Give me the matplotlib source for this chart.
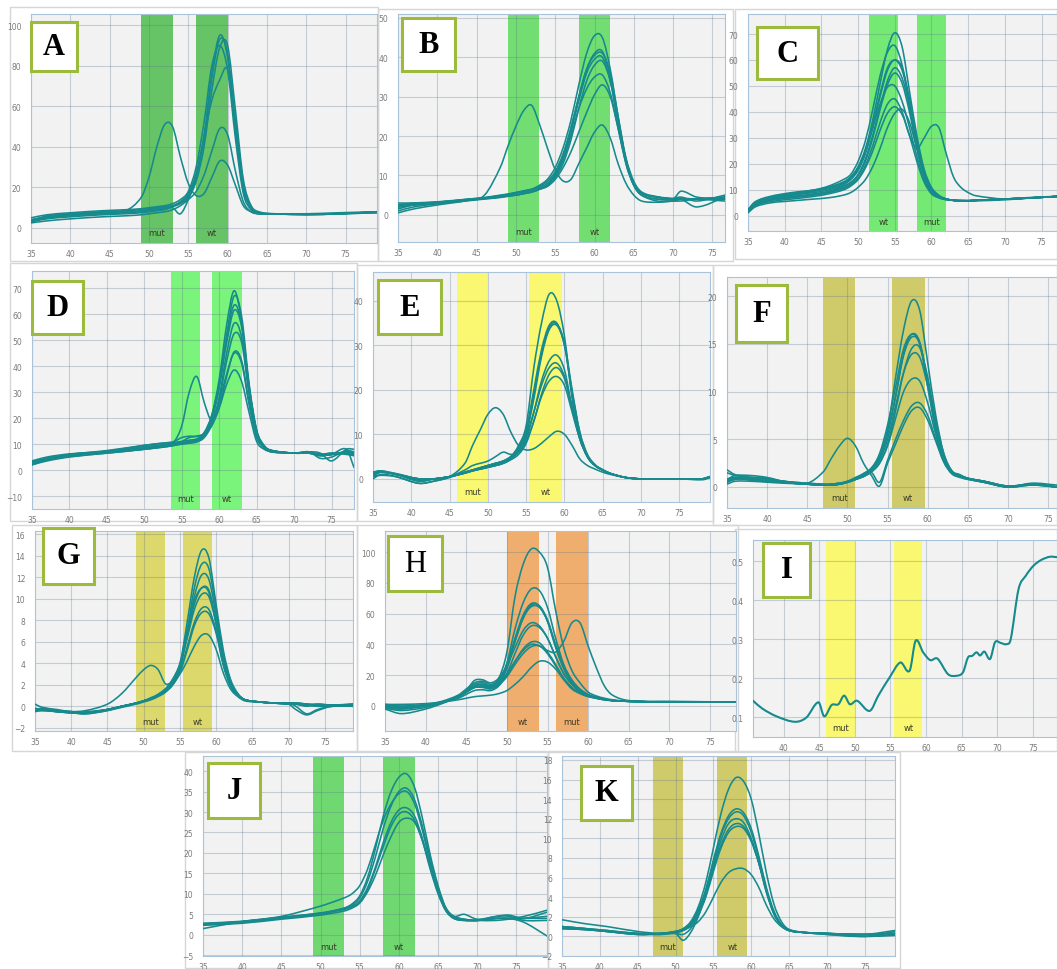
import matplotlib
matplotlib.use('Agg')
import matplotlib.pyplot as plt
from matplotlib.patches import Rectangle, PathPatch
from matplotlib.path import Path
import matplotlib.transforms as mtransforms

W, H = 1057, 970

# ---------------- data: melt curves ----------------
# temperature grid per panel, one list of -dF/dT values per trace

xA = [35, 37, 40, 44, 47, 49, 50, 51, 52, 53, 54, 55, 56, 57, 58, 59, 60, 61, 62, 63, 64, 66, 70, 74, 79]
curves_A = [
    [3, 6, 7, 8, 8.5, 9, 9.5, 10, 10.5, 11, 13, 17, 27, 45, 76, 95, 84, 48, 19, 10, 7.5, 7, 7, 7, 8],
    [4, 5.5, 6.5, 7.5, 8, 8.5, 9, 9.5, 10, 11, 12.5, 16, 26, 44, 74, 93, 86, 52, 21, 10, 7.5, 7, 7, 7.5, 8],
    [3.5, 5, 6, 7, 7.5, 8, 8.5, 9, 9.5, 10.5, 12, 15, 23, 40, 68, 89, 90, 58, 24, 11, 8, 7, 7, 7, 8],
    [5, 6.5, 7.5, 8.5, 9, 9.5, 10, 10.5, 11, 12, 14, 18, 30, 52, 80, 90, 78, 44, 17, 9, 7, 7, 6.5, 7, 8],
    [3, 4.5, 5.5, 6.5, 7, 7.5, 8, 8.5, 9, 10, 7, 14, 25, 45, 63, 73, 78, 52, 22, 10, 7.5, 7, 6.5, 7, 7.5],
    [2.5, 3.5, 4.5, 5.5, 6, 6.5, 7, 7.5, 8, 9, 11, 14, 18, 26, 38, 49, 46, 28, 13, 8, 7, 7, 7, 7, 7.5],
    [4, 5.5, 6.5, 7.5, 8.5, 15, 25, 40, 51, 50, 35, 22, 16, 17, 25, 33, 31, 21, 11, 8, 7, 7, 7, 7, 8],
]
bands_A = [(49, 53, 'mut'), (56, 60, 'wt')]

xB = [35, 37, 40, 44, 46, 48, 49, 50, 51, 52, 53, 54, 55, 56, 57, 58, 59, 60, 61, 62, 63, 64, 65, 66, 68, 70, 71, 73, 76.6]
curves_B = [
    [2, 2.5, 3, 3.8, 4.2, 4.8, 5.1, 5.5, 6, 6.5, 7.5, 9, 12, 17, 24, 33, 41, 45.5, 45, 37, 25, 14, 8, 5.5, 4.5, 4, 4, 4, 3.5],
    [2.5, 3, 3.2, 4, 4.4, 5, 5.3, 5.7, 6.1, 6.5, 7, 8, 10.5, 15, 22, 30, 37, 41, 41.5, 35, 24, 14, 8, 5.5, 4.5, 4, 4.2, 4, 4],
    [1.5, 2.5, 3, 3.8, 4.2, 4.8, 5.1, 5.5, 5.8, 6, 6.7, 7.5, 10, 14, 21, 29, 36, 39.5, 40, 34, 23, 13, 7.5, 5, 4, 4, 6, 4.5, 4],
    [3, 3, 3.3, 4, 4.3, 4.7, 4.9, 5, 5.4, 5.8, 6.5, 7.5, 9.5, 13, 19, 27, 34, 38, 39, 34, 24, 14, 8, 5.5, 4.5, 4, 4, 2, 4.5],
    [2, 2.5, 3, 3.7, 4.1, 4.5, 4.8, 5, 5.4, 5.8, 6.5, 7.5, 10, 14, 20, 27, 32, 35, 35.5, 31, 22, 13, 7.5, 5, 4, 3.8, 4, 4, 4.5],
    [1, 2, 2.8, 3.6, 4, 4.4, 4.7, 5, 5.4, 5.8, 6.5, 7.2, 9, 12, 16, 21, 26, 30.5, 33, 30, 22, 13.5, 7.5, 5, 3.5, 3.5, 4, 4, 4],
    [0.5, 1.5, 2.5, 3.7, 5, 12, 17.5, 22.5, 26.5, 27.8, 23, 17, 11.5, 8.6, 9, 13, 17, 21, 22.8, 19.5, 13, 8, 5, 3.5, 3.2, 3.5, 3.5, 4, 4.5],
    [2.2, 2.8, 3.2, 3.9, 4.3, 4.9, 5.2, 5.6, 6, 6.4, 7.2, 8.5, 11, 15.5, 22, 30, 37, 40.5, 41, 36, 25, 14.5, 8.5, 5.8, 4.6, 4.2, 4.5, 3.5, 5],
]
bands_B = [(49, 53, 'mut'), (58, 62, 'wt')]

xC = [35, 36, 38, 41, 44, 46, 48, 49, 50, 51, 52, 53, 54, 55, 56, 57, 58, 59, 60, 61, 62, 63, 64, 65, 66, 70, 74, 77.1]
curves_C = [
    [2, 5, 7, 8, 9.5, 11, 13, 15, 19, 26, 37, 51, 64, 70.5, 65, 48, 31, 18, 11, 8, 6.5, 6, 6, 5.8, 5.8, 6.2, 7, 7.5],
    [2.5, 5.5, 7.5, 9, 10, 11.5, 14, 16, 21, 29, 41, 54, 63, 65.5, 58, 43, 27, 16, 10, 7.5, 6.5, 6, 5.8, 5.8, 6, 6.5, 7, 7.5],
    [1.5, 4.5, 6.5, 8, 9, 10, 12, 14, 17.5, 24, 34, 46, 56, 60, 56, 44, 28, 16.5, 10, 7.5, 6.5, 6, 6, 6, 6, 6.5, 7.2, 7.5],
    [2, 4.8, 6.3, 7.5, 8.5, 9.5, 11.5, 13, 16, 22, 31, 42, 52, 57, 53, 42, 27, 16, 10, 7.5, 6.5, 6, 5.8, 5.8, 6, 6.5, 7, 7.5],
    [2, 5, 6.8, 8.5, 10, 11, 13, 15, 18.5, 25, 34, 43, 49.5, 50, 44, 34, 23, 14, 9, 7, 6.3, 6, 5.8, 5.8, 6, 6.5, 7, 7.5],
    [1.5, 4, 6, 7, 8, 9, 10.5, 12, 14.5, 19.5, 27, 36, 43, 45, 40, 31, 26, 30, 34.5, 34, 24, 15, 11, 9, 7.8, 6.5, 7, 7.5],
    [1.5, 4, 5.5, 6.5, 7.5, 8.5, 10, 11.5, 14, 18.5, 25, 33, 39.5, 42, 39, 31, 21, 13, 8.5, 7, 6.2, 6, 5.8, 5.8, 6, 6.5, 7, 7.5],
    [1.2, 3.5, 5, 5.8, 6.5, 7, 8, 9, 11, 14, 19, 26, 34, 39.5, 41, 36, 26, 16, 10, 7.5, 6.5, 6, 5.8, 5.8, 6, 6.5, 7, 7.5],
    [2, 5.2, 7.2, 8.5, 9.5, 10.5, 12.5, 14.5, 18, 24.5, 35, 47, 57, 60, 57, 45, 29, 17, 10.5, 7.5, 6.5, 6, 5.8, 5.8, 6, 6.5, 7, 7.5],
    [2, 4.5, 6, 7.2, 8.2, 9.2, 11, 12.5, 15.5, 21, 30, 41, 50.5, 55, 51, 40, 26, 15.5, 9.5, 7.3, 6.5, 6, 5.8, 5.8, 6, 6.5, 7, 7.5],
]
bands_C = [(51.5, 55.5, 'wt'), (58, 62, 'mut')]

xD = [35, 37, 40, 45, 50, 53, 54, 55, 56, 57, 58, 59, 60, 61, 62, 63, 64, 65, 66, 67, 70, 72, 73.5, 75, 77, 78]
curves_D = [
    [3, 4.5, 6, 7, 8.5, 9.5, 10, 10.5, 11, 11.5, 14, 21, 35, 56, 69, 57, 31, 14.5, 9, 7.5, 6.5, 7, 6, 6.5, 6.5, 6],
    [2.5, 4, 5.5, 6.8, 8, 9, 9.5, 10, 10.5, 11, 13, 19, 32, 52, 67, 59, 33, 15.5, 9.5, 7.5, 6.5, 6.5, 5.5, 6, 7, 6.5],
    [3.5, 5, 6.2, 7.2, 9, 10, 10.5, 11, 11.5, 12, 14.5, 21, 33, 51, 63.5, 56, 32, 15, 9, 7.5, 6.5, 7, 4.5, 5, 7.5, 7],
    [2, 3.8, 5.2, 6.5, 8, 9, 9.5, 10, 10.3, 10.8, 12.5, 17.5, 28, 45, 56.5, 51, 30, 14.5, 9, 7.5, 6.5, 6.5, 6, 6.5, 6, 5.5],
    [3, 4.3, 5.8, 7, 8.5, 9.5, 10, 10.5, 11, 11.5, 13, 18, 27, 42, 52.5, 49, 29, 14, 9, 7.5, 6.5, 7, 6.5, 3.5, 8, 8],
    [2.5, 4, 5.5, 7.2, 9.5, 10.5, 10.5, 11, 12.5, 13, 14, 17, 24, 36, 45.5, 42, 26, 13, 8.5, 7, 6.5, 6.5, 6, 6, 7, 6.5],
    [2, 3.5, 5, 6.5, 8, 9.5, 11, 17, 30, 36, 26, 19, 24, 33, 38.5, 34, 22, 11, 8, 7, 6.5, 6.5, 6, 6, 8, 1],
    [3, 4.5, 6, 7.5, 9.5, 10.5, 11, 12.5, 13, 13, 14, 18, 26, 37, 45, 41, 25, 12.5, 8.5, 7, 6.5, 6.5, 5.5, 6, 6.5, 6],
    [2.8, 4.2, 5.7, 6.9, 8.3, 9.3, 9.8, 10.2, 10.6, 11.2, 13.5, 20, 32, 49, 61.5, 55, 32, 15, 9, 7.5, 6.5, 6.5, 6, 6, 6.5, 6],
]
bands_D = [(53.5, 57.5, 'mut'), (59, 63, 'wt')]

xE = [35, 36, 38, 41, 43, 45, 47, 48, 49, 50, 51, 52, 53, 54, 55, 56, 57, 58, 59, 60, 61, 62, 63, 64, 65, 66, 68, 70, 75, 78, 79]
curves_E = [
    [1, 1.5, 1, 0, 0, 0.5, 1.5, 2, 2.5, 3, 3.5, 4, 5, 7.5, 12, 25, 35, 41.5, 40, 32, 18, 9.5, 5, 3, 2, 1.2, 0.3, 0, 0, 0, 0.5],
    [0.5, 1.5, 1, -0.5, 0, 0.5, 1.5, 2, 2.5, 3, 3.5, 4, 5, 7, 11, 20, 29, 34.5, 35, 30, 19, 10, 5, 3, 2, 1.2, 0.3, 0, 0, -0.2, 0.3],
    [1.5, 1.8, 1.2, 0, 0, 0.5, 1.3, 1.8, 2.2, 2.6, 3, 3.5, 4.5, 6.5, 10, 18, 27.5, 33.5, 34.5, 30, 19.5, 10.5, 5.5, 3.2, 2, 1.2, 0.3, 0, 0, 0, 0.5],
    [1, 1.5, 1, -0.5, 0, 0.5, 1.3, 1.8, 2.2, 2.6, 3, 3.5, 4.5, 6, 9, 15, 22, 26.5, 27.8, 24.5, 16, 9, 5, 3, 2, 1.2, 0.3, 0, 0, 0, 0.5],
    [0.5, 0.8, 0.5, -1, -0.5, 0.3, 1.5, 2, 2.5, 3, 3.5, 4, 5, 6.5, 9.5, 15, 21, 25, 26, 23, 16, 9, 5, 3, 2, 1.2, 0.3, 0, 0, 0, 0.3],
    [1.5, 1.8, 1, 0, 0, 0.5, 2, 3, 3.5, 4, 5, 6, 5.5, 6, 8.5, 13, 19, 23.5, 25, 22.5, 16, 9.5, 5, 3, 2, 1.2, 0.3, 0, 0, 0, 0.5],
    [1, 1.5, 1, -0.3, 0, 0.5, 1.3, 1.8, 2.2, 2.6, 3, 3.5, 4.3, 5.5, 8, 13, 18.5, 22, 23, 21, 15, 9, 5, 3, 2, 1.2, 0.3, 0, 0, 0, 0.3],
    [0, 1, 0.5, -1, -0.5, 0.5, 3.5, 7.5, 11, 14.5, 16, 14.5, 10.5, 7.5, 6.5, 6.8, 8, 9.5, 10.7, 10, 7.5, 4.5, 3, 2.2, 1.5, 1, 0.3, 0, 0, 0, 0.5],
    [1.2, 1.6, 1.1, 0, 0, 0.5, 1.4, 1.9, 2.4, 2.8, 3.3, 3.8, 4.8, 6.8, 10.5, 19, 28, 34, 34.8, 30.5, 20, 10.5, 5.3, 3.1, 2, 1.2, 0.3, 0, 0, 0, 0.4],
]
bands_E = [(46, 50, 'mut'), (55.4, 59.7, 'wt')]

xF = [35, 36, 38, 40, 42, 45, 47, 48, 49, 50, 51, 52, 53, 54, 55, 56, 57, 58, 59, 60, 61, 62, 63, 64, 65, 67, 70, 73, 76.1]
curves_F = [
    [1.8, 1.3, 1, 0.9, 0.6, 0.4, 0.3, 0.3, 0.4, 0.5, 0.8, 1.2, 1.8, 3, 6, 11.5, 16.5, 19.5, 18.5, 13, 7.5, 3.5, 1.7, 1.3, 0.9, 0.6, 0, 0.3, 0],
    [0.5, 0.8, 1, 0.9, 0.6, 0.3, 0.2, 0.2, 0.3, 0.5, 0.8, 1.2, 1.8, 3, 5.5, 9.5, 14, 16, 15.2, 11, 6.5, 3.2, 1.6, 1.2, 0.9, 0.6, 0.1, 0.3, 0],
    [0.8, 1.2, 1.2, 1, 0.6, 0.3, 0.2, 0.3, 0.4, 0.6, 1, 1.4, 2, 3.2, 5.8, 9.5, 13.8, 15.7, 15, 11, 6.5, 3.2, 1.6, 1.2, 0.9, 0.5, 0, 0.4, 0.2],
    [0.3, 0.6, 0.6, 0.5, 0.4, 0.3, 0.2, 0.2, 0.3, 0.5, 0.8, 1.1, 1.6, 2.5, 4.5, 8, 12, 14.5, 14.6, 11.5, 7, 3.5, 1.7, 1.2, 0.9, 0.5, 0, 0.2, 0],
    [0.6, 1, 0.8, 0.7, 0.5, 0.3, 0.2, 0.2, 0.3, 0.5, 0.8, 1.2, 1.8, 2.8, 5, 8.5, 12, 13.9, 13.6, 10.5, 6.2, 3, 1.6, 1.2, 0.9, 0.6, 0.1, 0.3, 0],
    [0.5, 0.9, 0.7, 0.6, 0.5, 0.3, 0.2, 0.2, 0.3, 0.5, 0.8, 1.1, 1.6, 2.5, 4.3, 7.2, 10, 11.3, 11.1, 8.8, 5.5, 2.8, 1.5, 1.1, 0.9, 0.6, 0.1, 0.3, 0],
    [0.8, 1, 0.9, 0.8, 0.5, 0.3, 0.2, 0.2, 0.3, 0.5, 0.8, 1.1, 1.5, 0.5, 2.8, 5, 7, 8.5, 8.8, 7.5, 5, 2.7, 1.4, 1, 0.8, 0.5, 0, 0.3, 0],
    [0.6, 0.8, 0.8, 0.6, 0.5, 0.4, 1.6, 3, 4.3, 5.1, 4.3, 2.5, 1.2, 0.1, 2.5, 4.5, 6.5, 8, 8.3, 7, 4.8, 2.6, 1.4, 1.1, 0.8, 0.5, 0, 0.2, 0],
    [1.5, 1.2, 1, 0.8, 0.6, 0.4, 0.3, 0.3, 0.4, 0.6, 0.9, 1.4, 2, 3.5, 6.5, 10.5, 14.5, 16, 15, 10.5, 5.8, 2.8, 1.5, 1.2, 0.9, 0.6, 0, 0.3, 0],
]
bands_F = [(47, 51, 'mut'), (55.5, 59.6, 'wt')]

xG = [35, 36, 38, 40, 42, 45, 47, 49, 50, 51, 52, 53, 54, 55, 56, 57, 58, 59, 60, 61, 62, 63, 64, 66, 68, 70, 71, 72.5, 74, 76, 78.9]
curves_G = [
    [-0.3, -0.2, -0.4, -0.5, -0.6, -0.3, 0, 0.3, 0.5, 0.7, 1, 1.4, 2.2, 3.8, 7.8, 12, 14.5, 13.8, 9.5, 5.2, 2.5, 1.2, 0.6, 0.4, 0.3, 0.3, 0.2, 0.1, 0.1, 0, 0.1],
    [-0.2, -0.3, -0.4, -0.6, -0.6, -0.3, 0, 0.3, 0.5, 0.7, 1, 1.4, 2, 3.5, 7, 11, 13.2, 12.8, 9, 4.8, 2.3, 1.1, 0.6, 0.4, 0.3, 0.3, 0.3, 0.2, 0, 0, 0.2],
    [0.2, -0.1, -0.3, -0.5, -0.5, -0.3, 0, 0.3, 0.5, 0.7, 1.1, 1.6, 2.3, 3.6, 6.8, 10.2, 12.2, 11.8, 8.5, 4.5, 2.2, 1.1, 0.6, 0.4, 0.3, 0.3, 0, -0.7, -0.3, 0, 0],
    [-0.4, -0.4, -0.5, -0.6, -0.7, -0.4, 0, 0.3, 0.5, 0.7, 1, 1.5, 2.3, 3.6, 6.5, 9.5, 11, 10.8, 8, 4.3, 2.1, 1, 0.6, 0.4, 0.3, 0.2, 0.2, 0.1, 0, 0.1, 0.2],
    [-0.2, -0.3, -0.4, -0.5, -0.6, -0.3, 0, 0.3, 0.5, 0.8, 1.1, 1.6, 2.5, 3.8, 6.3, 9, 10.4, 10.2, 7.7, 4.2, 2, 1, 0.6, 0.4, 0.3, 0.2, 0.2, 0, 0.2, 0.1, 0],
    [-0.3, -0.3, -0.5, -0.6, -0.7, -0.4, -0.1, 0.2, 0.4, 0.6, 0.9, 1.3, 2, 3.2, 5.5, 7.8, 9.1, 9, 7, 3.9, 1.9, 1, 0.6, 0.4, 0.3, 0.2, -0.3, -0.8, -0.4, 0, 0],
    [-0.5, -0.4, -0.5, -0.6, -0.6, -0.3, 0, 0.3, 0.5, 0.7, 1, 1.4, 2, 3.1, 5.2, 7.5, 8.7, 8.6, 6.8, 3.8, 1.9, 1, 0.6, 0.4, 0.3, 0.3, 0.3, 0.2, 0.2, 0.1, 0.2],
    [-0.3, -0.2, -0.4, -0.5, -0.4, 0.2, 1.2, 2.7, 3.4, 3.8, 3.4, 2.1, 2.3, 3, 4.2, 5.6, 6.6, 6.6, 5.3, 3.1, 1.6, 0.9, 0.5, 0.4, 0.3, 0.2, 0.2, 0.1, 0.1, 0, 0.1],
    [-0.3, -0.3, -0.5, -0.6, -0.6, -0.3, 0, 0.3, 0.5, 0.7, 1.1, 1.6, 2.5, 4, 7, 9.8, 11, 10.6, 7.6, 4, 2, 1, 0.6, 0.4, 0.3, 0.3, 0.3, 0.2, 0.1, 0.1, 0.1],
]
bands_G = [(49, 53, 'mut'), (55.4, 59.4, 'wt')]

xH = [35, 37, 40, 42, 44, 45, 46, 47, 48, 49, 50, 51, 52, 53, 54, 55, 56, 57, 58, 59, 60, 61, 62, 63, 65, 70, 78.2]
curves_H = [
    [-1, -2, 0, 2, 6, 9, 12, 13, 13, 18, 35, 71, 92, 102, 100, 90, 62, 38, 23, 15, 9, 6.5, 5, 4, 3, 2.5, 2.5],
    [0, -1, 0.5, 2.5, 6, 9, 12, 13, 12.5, 16, 28, 50, 67, 76, 75, 64, 44, 27, 17, 11, 7.5, 5.5, 4.5, 3.5, 3, 2.5, 2.5],
    [1, 0, 1, 3, 7, 11, 15, 16, 14, 17, 27, 44, 59, 66.5, 65, 55, 38, 24, 15, 10, 7, 5.5, 4.5, 3.5, 3, 2.5, 2.5],
    [-2, -5, -2, 1.5, 6, 10, 14, 15, 13, 16, 25, 42, 57, 64.5, 64, 55, 39, 25, 16, 10.5, 7, 5.5, 4.5, 3.5, 3, 2.5, 2.5],
    [-1, -1.5, 0, 2.5, 6.5, 10, 16.5, 17, 15, 18, 26, 38, 49, 54, 52, 44, 32, 21, 14, 9.5, 7, 5.5, 4.5, 3.5, 3, 2.5, 2.5],
    [0, -0.5, 0.5, 2.5, 5, 7.5, 10, 10.5, 10, 13, 21, 34, 46, 52, 51, 44, 32, 21, 14, 9.5, 7, 5.5, 4.5, 3.5, 3, 2.5, 2.5],
    [-1.5, -3, -1, 2, 6, 9, 12, 12.5, 11.5, 14, 20, 29, 37, 41.5, 41, 35, 27, 18, 12, 8.5, 6.5, 5, 4, 3.5, 3, 2.5, 2.5],
    [-1, -2, 0, 2.5, 6, 9, 13, 14, 12.5, 15, 21, 29, 36, 40, 39, 36, 35, 42, 54, 54, 39, 25, 13, 7, 3.5, 3, 2.5],
    [1, 1, 1.5, 2.5, 4, 5, 6, 6.5, 7, 8, 10, 14, 19, 25, 29, 28.5, 24, 17, 11, 8, 6, 5, 4, 3.5, 3, 2.5, 2.5],
    [0.5, -1, 0.5, 2.5, 6, 9.5, 13, 14, 12, 15, 24, 42, 57, 65.5, 65, 56, 40, 25, 16, 10.5, 7, 5.5, 4.5, 3.5, 3, 2.5, 2.5],
    [0, -1, 0.5, 2.5, 6, 9, 12, 12, 11, 13.5, 19, 27, 34, 38.5, 39, 34, 26, 18, 12, 8.5, 6.5, 5, 4, 3.5, 3, 2.5, 2.5],
]
bands_H = [(50, 54, 'wt'), (56, 60, 'mut')]

xI = [35.7, 37, 39, 41.6, 43.2, 44.9, 45.7, 46.75, 47.7, 48.5, 49.3, 50.3, 52.1, 53.3, 54.9, 56.4, 57.7, 58.55, 59.6,
      60.6, 61.6, 63.1, 64.3, 65.2, 65.9, 66.5, 67.1, 67.6, 68.2, 69.0, 69.7, 70.5, 71.3, 71.9, 73.0, 74.0, 75.1, 76.2,
      77.4, 78.4]
curves_I = [
    [0.142, 0.122, 0.102, 0.088, 0.099, 0.138, 0.102, 0.131, 0.133, 0.155, 0.133, 0.142, 0.116, 0.155, 0.202, 0.24,
     0.219, 0.296, 0.266, 0.246, 0.25, 0.21, 0.206, 0.215, 0.253, 0.257, 0.266, 0.258, 0.268, 0.249, 0.292, 0.29,
     0.287, 0.3, 0.428, 0.462, 0.488, 0.503, 0.511, 0.51],
]
bands_I = [(46, 50, 'mut'), (55.5, 59.5, 'wt')]

xJ = [35, 40, 45, 50, 53, 54, 55, 56, 57, 58, 59, 60, 61, 62, 63, 64, 65, 66, 67, 68.3, 70, 72.5, 74, 76, 78.9]
curves_J = [
    [2.5, 3, 4, 5, 6.5, 7.5, 9.5, 14, 21, 29, 35, 38.5, 39.3, 36, 28.5, 19.5, 12, 6.5, 4.5, 3.8, 3.5, 3.5, 3.8, 4, 4.5],
    [2.5, 3.2, 4.2, 5.3, 6.5, 7.3, 9, 13, 19, 26, 31.5, 35, 35.8, 33, 26.5, 18.5, 11.5, 6.5, 4.5, 3.8, 3.5, 4, 4, 4, 4],
    [1.5, 3.2, 4.5, 7, 9, 10, 12, 16, 22, 28, 32, 34.5, 35, 32, 25.5, 17.5, 11, 6.5, 4.5, 5, 3.8, 4.5, 4.5, 3.5, 3.5],
    [2.8, 3.3, 4.3, 5.3, 6.3, 7, 8.3, 11.5, 16.5, 22.5, 27.5, 30.5, 31, 29, 23.5, 16.5, 10.5, 6, 4.2, 3.6, 3.5, 4.5, 4.8, 4, 5.5],
    [2.3, 2.8, 3.8, 4.8, 5.8, 6.5, 7.8, 11, 16, 21.5, 26.5, 29.5, 30, 28, 23, 16, 10, 5.8, 4, 3.5, 3.5, 4, 4, 3, -0.3],
    [2.7, 3.2, 4.2, 5.2, 6.2, 6.8, 7.8, 10.5, 14.5, 19.5, 24, 27.5, 28.5, 27.5, 23, 16.5, 10.5, 6, 4, 3.5, 3.5, 4, 4, 4.5, 6],
]
bands_J = [(49, 53, 'mut'), (58, 62, 'wt')]

xK = [35, 38, 41, 45, 48, 50, 51, 52, 53, 54, 55, 56, 57, 58, 59, 60, 61, 62, 63, 64, 65, 67, 70, 75, 79]
curves_K = [
    [1, 0.8, 0.6, 0.3, 0.3, 0.5, 0.8, 1.5, 3, 5.5, 9, 12.5, 15, 16.2, 15.8, 14, 10.5, 6.5, 3.3, 1.5, 0.7, 0.4, 0.3, 0.2, 0.3],
    [0.8, 0.7, 0.5, 0.2, 0.3, 0.5, 0.7, 1.3, 2.7, 4.8, 7.8, 10.5, 12.3, 13, 12.6, 11, 8.2, 5, 2.6, 1.2, 0.6, 0.4, 0.3, 0.2, 0.3],
    [1.7, 1.3, 1, 0.5, 0.3, 0.4, 0.6, 1.2, 2.6, 4.6, 7.5, 10.3, 12, 12.7, 12.3, 10.6, 8, 4.8, 2.4, 1.1, 0.6, 0.4, 0.2, 0, 0.5],
    [1, 0.8, 0.6, 0.3, 0.3, 0.4, 0.6, 1.1, 2.4, 4.4, 7.2, 9.8, 11.5, 12, 11.6, 10, 7.5, 4.5, 2.3, 1.1, 0.6, 0.4, 0.3, 0.2, 0.6],
    [0.8, 0.7, 0.5, 0.2, 0.2, 0.3, -0.4, 0.4, 2, 4.2, 6.9, 9.3, 10.9, 11.5, 11.2, 9.8, 7.5, 4.6, 2.3, 1.1, 0.6, 0.4, 0.2, 0, 0.1],
    [0.8, 0.7, 0.5, 0.3, 0.2, 0.3, 0.2, 0.8, 2.2, 4, 6.6, 9, 10.6, 11.2, 11, 9.7, 7.5, 4.7, 2.4, 1.2, 0.7, 0.4, 0.3, 0, 0.2],
    [1, 0.8, 0.5, 0.2, 0.3, 0.5, 0.7, 1, 1.5, 2.5, 4, 5.5, 6.5, 6.9, 6.9, 6.3, 5, 3.2, 1.8, 1, 0.6, 0.4, 0.3, 0.2, 0.3],
]
bands_K = [(47, 51, 'mut'), (55.5, 59.5, 'wt')]

# ---------------- layout (pixel boxes of the screenshots) ----------------
panels = [
    ('A', xA, curves_A, bands_A, dict(box=(31, 15, 377, 244), xlim=(35, 79), ylim=(-7.4, 105.5),
                                      yt=[0, 20, 40, 60, 80, 100], band='#66c466', tag=(31, 23, 77, 72),
                                      shot=(10, 8, 378, 262))),
    ('B', xB, curves_B, bands_B, dict(box=(398, 15, 725, 243), xlim=(35, 76.6), ylim=(-6.9, 51),
                                      yt=[0, 10, 20, 30, 40, 50], band='#72de72', tag=(402, 19, 455, 72),
                                      shot=(378, 10, 733, 262))),
    ('C', xC, curves_C, bands_C, dict(box=(748, 15, 1057, 232), xlim=(35, 77.1), ylim=(-5.8, 77.7),
                                      yt=[0, 10, 20, 30, 40, 50, 60, 70], band='#74ea74', tag=(757, 28, 818, 80),
                                      shot=(735, 10, 1057, 260))),
    ('D', xD, curves_D, bands_D, dict(box=(32, 272, 354, 510), xlim=(35, 78), ylim=(-15, 76.6),
                                      yt=[-10, 0, 10, 20, 30, 40, 50, 60, 70], band='#7af47a', tag=(32, 282, 83, 335),
                                      shot=(10, 264, 357, 522))),
    ('E', xE, curves_E, bands_E, dict(box=(373, 273, 710, 503), xlim=(35, 79), ylim=(-5.2, 46.5),
                                      yt=[0, 10, 20, 30, 40], band='#f9f870', tag=(378, 281, 441, 335),
                                      shot=(357, 266, 713, 522))),
    ('F', xF, curves_F, bands_F, dict(box=(727, 278, 1057, 509), xlim=(35, 76.1), ylim=(-2.2, 22),
                                      yt=[0, 5, 10, 15, 20], band='#cfcb6a', tag=(736, 286, 787, 343),
                                      shot=(713, 266, 1057, 526))),
    ('G', xG, curves_G, bands_G, dict(box=(35, 532, 353, 732), xlim=(35, 78.9), ylim=(-2.3, 16.3),
                                      yt=[-2, 0, 2, 4, 6, 8, 10, 12, 14, 16], band='#dcd86c', tag=(43, 529, 94, 585),
                                      shot=(12, 526, 357, 752))),
    ('H', xH, curves_H, bands_H, dict(box=(385, 532, 736, 732), xlim=(35, 78.2), ylim=(-16.3, 113.7),
                                      yt=[0, 20, 40, 60, 80, 100], band='#efae6e', tag=(388, 537, 442, 592),
                                      bold=False, shot=(357, 526, 738, 752))),
    ('I', xI, curves_I, bands_I, dict(box=(753, 541, 1057, 738), xlim=(35.7, 78.4), ylim=(0.049, 0.554),
                                      yt=[0.1, 0.2, 0.3, 0.4, 0.5], band='#f9f870', tag=(763, 544, 810, 598),
                                      xt=[40, 45, 50, 55, 60, 65, 70, 75], shot=(735, 530, 1057, 752))),
    ('J', xJ, curves_J, bands_J, dict(box=(203, 757, 547, 957), xlim=(35, 78.9), ylim=(-5.2, 43.7),
                                      yt=[-5, 0, 5, 10, 15, 20, 25, 30, 35, 40], band='#70d870', tag=(208, 764, 260, 819),
                                      shot=(185, 753, 548, 969))),
    ('K', xK, curves_K, bands_K, dict(box=(562, 757, 895, 957), xlim=(35, 79), ylim=(-2, 18.4),
                                      yt=[-2, 0, 2, 4, 6, 8, 10, 12, 14, 16, 18], band='#cfcb6a', tag=(581, 767, 632, 821),
                                      shot=(548, 753, 900, 969))),
]

line_color = '#168a8c'

fig = plt.figure(figsize=(W / 100, H / 100), dpi=100)
fig.patch.set_facecolor('white')


def px_rect(l, t, r, b):
    return [l / W, 1 - b / H, (r - l) / W, (b - t) / H]


def smooth_path(xs, ys):
    # cubic bezier segments through the read points (drawing style only)
    n = len(xs)
    slopes = []
    for i in range(n):
        a, b = max(i - 1, 0), min(i + 1, n - 1)
        slopes.append((ys[b] - ys[a]) / (xs[b] - xs[a]))
    verts = [(xs[0], ys[0])]
    codes = [Path.MOVETO]
    for i in range(n - 1):
        h = (xs[i + 1] - xs[i]) / 3
        verts += [(xs[i] + h, ys[i] + slopes[i] * h),
                  (xs[i + 1] - h, ys[i + 1] - slopes[i + 1] * h),
                  (xs[i + 1], ys[i + 1])]
        codes += [Path.CURVE4] * 3
    return Path(verts, codes)


# faint screenshot frames
for letter, xs, curves, bands, lay in panels:
    l, t, r, b = lay['shot']
    fig.add_artist(Rectangle((l / W, 1 - b / H), (r - l) / W, (b - t) / H, transform=fig.transFigure,
                             facecolor='none', edgecolor='#d6d6d6', linewidth=1.0, zorder=-1))

for letter, xs, curves, bands, lay in panels:
    ax = fig.add_axes(px_rect(*lay['box']))
    ax.set_facecolor('#f2f2f2')
    ax.set_xlim(*lay['xlim'])
    ax.set_ylim(*lay['ylim'])
    xt = lay.get('xt', [35, 40, 45, 50, 55, 60, 65, 70, 75])
    ax.set_xticks(xt)
    ax.set_yticks(lay['yt'])
    if letter == 'I':
        ax.set_yticklabels(['%.1f' % v for v in lay['yt']])
    ax.tick_params(length=0, labelsize=5.5, labelcolor='#7a7a7a', pad=4)
    ax.tick_params(axis='y', pad=7)

    for lo, hi, name in bands:
        ax.axvspan(lo, hi, color=lay['band'], zorder=1, lw=0)
        tr = mtransforms.blended_transform_factory(ax.transData, ax.transAxes)
        ax.text((lo + hi) / 2, 0.025, name, transform=tr, ha='center', va='bottom',
                fontsize=6, color='#3a3a2a', zorder=4)

    for v in xt:
        ax.axvline(v, color='#5f7389', alpha=0.3, lw=0.8, zorder=2)
    for v in lay['yt']:
        ax.axhline(v, color='#5f7389', alpha=0.3, lw=0.8, zorder=2)

    lw = 1.5 if letter == 'I' else 1.15
    for ys in curves:
        ax.add_patch(PathPatch(smooth_path(xs, ys), fill=False, edgecolor=line_color, lw=lw,
                               zorder=3, joinstyle='round', capstyle='round'))

    for s in ax.spines.values():
        s.set_color('#a9c3da')
        s.set_linewidth(0.8)

    l, t, r, b = lay['tag']
    fig.add_artist(Rectangle((l / W, 1 - b / H), (r - l) / W, (b - t) / H, transform=fig.transFigure,
                             facecolor='white', edgecolor='#9cba3c', linewidth=2.2, zorder=10))
    fig.text((l + r) / 2 / W, 1 - (t + b) / 2 / H, letter, ha='center', va='center', fontsize=22,
             fontweight='bold' if lay.get('bold', True) else 'normal',
             family='Liberation Serif', color='black', zorder=11)

fig.savefig('out.png', dpi=100, facecolor='white')
